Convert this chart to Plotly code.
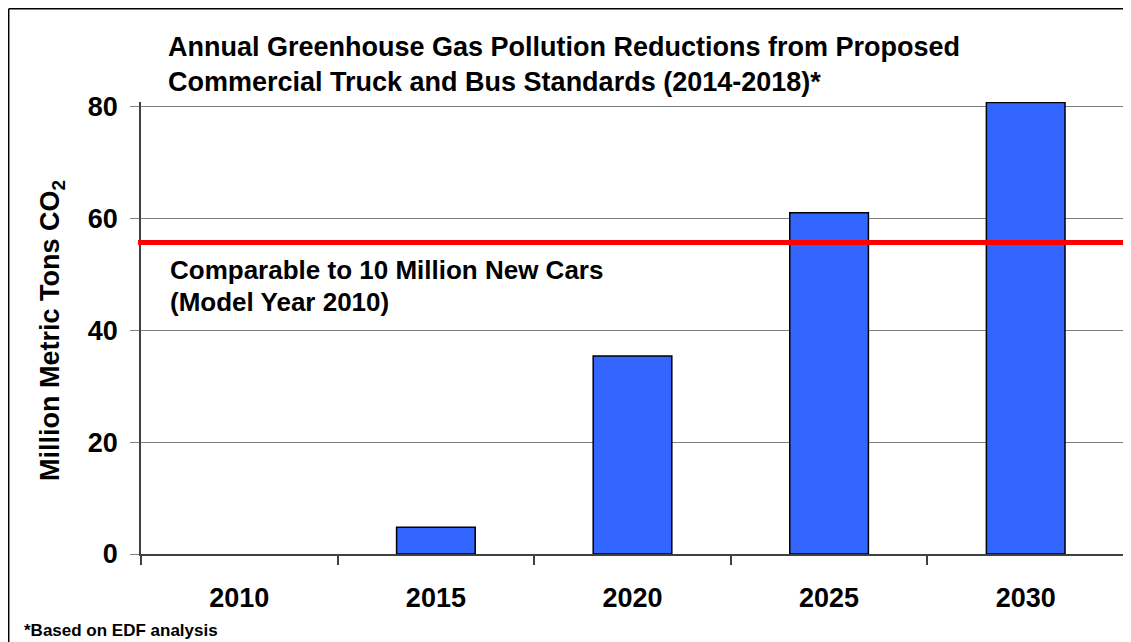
import plotly.graph_objects as go

years = ["2010", "2015", "2020", "2025", "2030"]
reductions = [0, 4.8, 35.4, 61.0, 80.7]
cars_equiv = 55.7
y_ticks = [0, 20, 40, 60, 80]

FONT = "Liberation Sans, Arial, sans-serif"

# the page places the figure 8px from the window's top-left corner
OFF = 8
W, H = 1131 - OFF, 642 - OFF
L, R, T, B = 141 - OFF, 7, 102 - OFF, 88
pw, ph = W - L - R, H - T - B


def px(x):
    """window x pixel -> paper coordinate"""
    return (x - OFF - L) / pw


def py(y):
    """window y pixel -> paper coordinate"""
    return (H - B - (y - OFF)) / ph


outline_widths = [1.5 if v > 0 else 0 for v in reductions]

fig = go.Figure()
fig.add_trace(go.Bar(
    x=years, y=reductions, width=0.4,
    marker=dict(color="#3366FF", line=dict(color="#000000", width=outline_widths)),
    cliponaxis=False, hoverinfo="x+y",
))

fig.update_layout(
    width=W, height=H,
    margin=dict(l=L, r=R, t=T, b=B, autoexpand=False),
    paper_bgcolor="white", plot_bgcolor="white",
    showlegend=False,
    font=dict(family=FONT, color="black"),
    xaxis=dict(
        type="category", tickson="boundaries", ticks="outside", ticklen=9,
        tickcolor="#404040", tickwidth=1.5,
        showline=True, linecolor="#404040", linewidth=2,
        tickfont=dict(size=27, family=FONT, color="black", weight="bold"),
        ticklabelstandoff=19, showgrid=False,
    ),
    yaxis=dict(
        range=[0, 80.8], tickvals=y_ticks, ticks="outside", ticklen=9,
        tickcolor="#808080", tickwidth=1,
        showline=True, linecolor="#404040", linewidth=1.5,
        showgrid=True, gridcolor="#808080", gridwidth=1,
        zeroline=False,
        tickfont=dict(size=27, family=FONT, color="black", weight="bold"),
        ticklabelstandoff=7,
    ),
)

shapes = [
    # right border of plot area
    dict(type="line", xref="paper", yref="y", x0=1, x1=1, y0=0, y1=80,
         line=dict(color="#808080", width=1.5), layer="below"),
    # reference line
    dict(type="line", xref="paper", yref="y", x0=px(138), x1=px(1135),
         y0=cars_equiv, y1=cars_equiv, line=dict(color="#FF0000", width=5)),
    # outer frame (top and left edges)
    dict(type="line", xref="paper", yref="paper", x0=px(8.7), x1=px(1130),
         y0=py(8.7), y1=py(8.7), line=dict(color="black", width=1.5)),
    dict(type="line", xref="paper", yref="paper", x0=px(8.7), x1=px(8.7),
         y0=py(8.7), y1=py(660), line=dict(color="black", width=1.5)),
]
fig.update_layout(shapes=shapes)


def ann(text, x, y, size, **kw):
    fig.add_annotation(text=text, xref="paper", yref="paper", x=px(x), y=py(y),
                       xanchor=kw.pop("xanchor", "left"), yanchor="middle",
                       showarrow=False,
                       font=dict(size=size, family=FONT, color="black", weight="bold"),
                       **kw)


ann("Annual Greenhouse Gas Pollution Reductions from Proposed", 166, 47, 27)
ann("Commercial Truck and Bus Standards (2014-2018)*", 166, 82, 27)
ann("Comparable to 10 Million New Cars", 168, 270, 26)
ann("(Model Year 2010)", 168, 302, 26)
ann("*Based on EDF analysis", 22, 630, 17)
ann("Million Metric Tons CO<sub>2</sub>", 52, 331, 27, xanchor="center", textangle=-90)

fig.write_html("out.html")
